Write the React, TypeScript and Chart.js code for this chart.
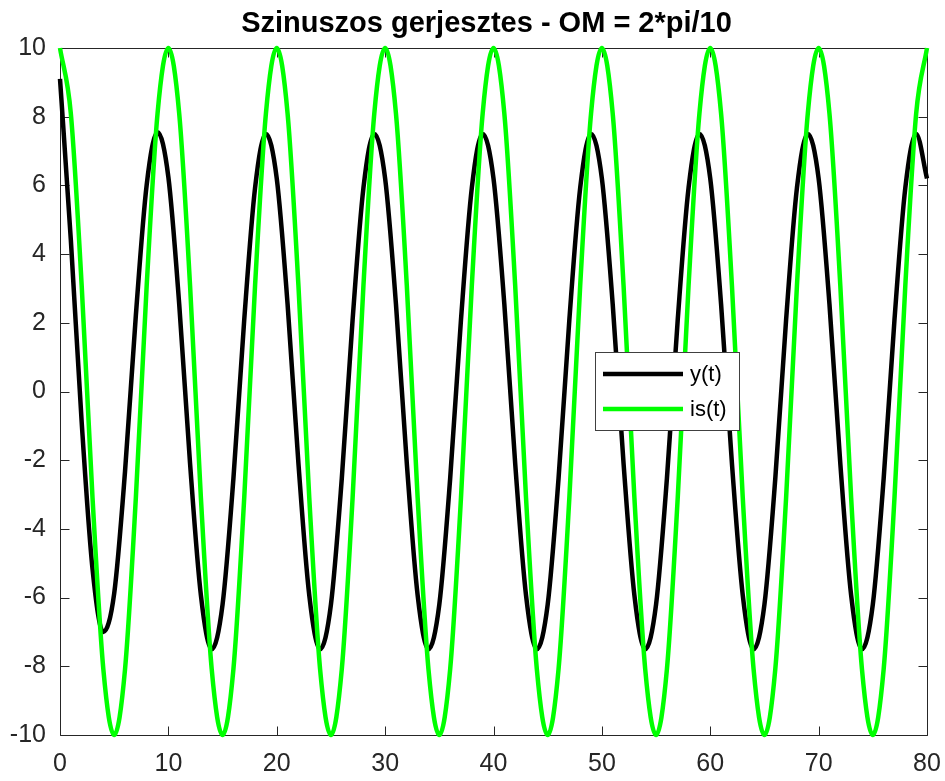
import React, { useEffect, useRef } from "react";
import { Chart, registerables } from "chart.js";

Chart.register(...registerables);

const TITLE = "Szinuszos gerjesztes - OM = 2*pi/10";
const SERIES_NAMES = ["y(t)", "is(t)"];
const SERIES_COLORS = ["#000000", "#00ff00"];

const T = [
  0, 1, 2, 3, 4, 5, 6, 7, 8, 9, 10,
  11, 12, 13, 14, 15, 16, 17, 18, 19, 20,
  21, 22, 23, 24, 25, 26, 27, 28, 29, 30,
  31, 32, 33, 34, 35, 36, 37, 38, 39, 40,
  41, 42, 43, 44, 45, 46, 47, 48, 49, 50,
  51, 52, 53, 54, 55, 56, 57, 58, 59, 60,
  61, 62, 63, 64, 65, 66, 67, 68, 69, 70,
  71, 72, 73, 74, 75, 76, 77, 78, 79, 80,
];

const Y_VALUES = [
  9.1, 4.41, -0.89, -5.16, -7.0, -5.88, -2.33, 2.22, 6.02, 7.55, 6.24,
  2.54, -2.09, -5.93, -7.5, -6.2, -2.54, 2.09, 5.93, 7.5, 6.2,
  2.54, -2.09, -5.93, -7.5, -6.2, -2.54, 2.09, 5.93, 7.5, 6.2,
  2.54, -2.09, -5.93, -7.5, -6.2, -2.54, 2.09, 5.93, 7.5, 6.2,
  2.54, -2.09, -5.93, -7.5, -6.2, -2.54, 2.09, 5.93, 7.5, 6.2,
  2.54, -2.09, -5.93, -7.5, -6.2, -2.54, 2.09, 5.93, 7.5, 6.2,
  2.54, -2.09, -5.93, -7.5, -6.2, -2.54, 2.09, 5.93, 7.5, 6.2,
  2.54, -2.09, -5.93, -7.5, -6.2, -2.54, 2.09, 5.93, 7.5, 6.2,
];

const IS_VALUES = [
  10, 8.09, 3.09, -3.09, -8.09, -10, -8.09, -3.09, 3.09, 8.09,
  10, 8.09, 3.09, -3.09, -8.09, -10, -8.09, -3.09, 3.09, 8.09,
  10, 8.09, 3.09, -3.09, -8.09, -10, -8.09, -3.09, 3.09, 8.09,
  10, 8.09, 3.09, -3.09, -8.09, -10, -8.09, -3.09, 3.09, 8.09,
  10, 8.09, 3.09, -3.09, -8.09, -10, -8.09, -3.09, 3.09, 8.09,
  10, 8.09, 3.09, -3.09, -8.09, -10, -8.09, -3.09, 3.09, 8.09,
  10, 8.09, 3.09, -3.09, -8.09, -10, -8.09, -3.09, 3.09, 8.09,
  10, 8.09, 3.09, -3.09, -8.09, -10, -8.09, -3.09, 3.09, 8.09,
  10,
];

const X_TICKS = [0, 10, 20, 30, 40, 50, 60, 70, 80];
const Y_TICKS = [-10, -8, -6, -4, -2, 0, 2, 4, 6, 8, 10];

const FONT = "'Liberation Sans', Arial, Helvetica, sans-serif";
const AXIS_COLOR = "#262626";

const framePlugin = {
  id: "frame",
  beforeDatasetsDraw(chart: any) {
    const { ctx, chartArea } = chart;
    const xs = chart.scales.x;
    const ys = chart.scales.y;
    const l = Math.round(chartArea.left) + 0.5;
    const r = Math.round(chartArea.right) + 0.5;
    const t = Math.round(chartArea.top) + 0.5;
    const b = Math.round(chartArea.bottom) + 0.5;
    const tk = 9;
    ctx.save();
    ctx.strokeStyle = AXIS_COLOR;
    ctx.lineWidth = 1;
    ctx.beginPath();
    ctx.rect(l, t, r - l, b - t);
    X_TICKS.forEach((v) => {
      const px = Math.round(xs.getPixelForValue(v)) + 0.5;
      ctx.moveTo(px, b);
      ctx.lineTo(px, b - tk);
      ctx.moveTo(px, t);
      ctx.lineTo(px, t + tk);
    });
    Y_TICKS.forEach((v) => {
      const py = Math.round(ys.getPixelForValue(v)) + 0.5;
      ctx.moveTo(l, py);
      ctx.lineTo(l + tk, py);
      ctx.moveTo(r, py);
      ctx.lineTo(r - tk, py);
    });
    ctx.stroke();
    ctx.restore();
  },
  afterDraw(chart: any) {
    const { ctx, chartArea } = chart;
    ctx.save();
    // title
    ctx.fillStyle = "#000";
    ctx.font = `bold 29px ${FONT}`;
    ctx.textAlign = "center";
    ctx.textBaseline = "alphabetic";
    ctx.fillText(TITLE, (chartArea.left + chartArea.right) / 2 - 7, 31.5);

    // legend
    const bx = chartArea.left + 535.5;
    const by = chartArea.top + 304.5;
    const bw = 144;
    const bh = 78;
    ctx.fillStyle = "#fff";
    ctx.fillRect(bx, by, bw, bh);
    ctx.strokeStyle = "#404040";
    ctx.lineWidth = 1;
    ctx.strokeRect(bx, by, bw, bh);
    const rowsY = [by + 21.5, by + 56.5];
    chart.data.datasets.forEach((ds: any, i: number) => {
      ctx.strokeStyle = ds.borderColor;
      ctx.lineWidth = 4.5;
      ctx.beginPath();
      ctx.moveTo(bx + 7.5, rowsY[i]);
      ctx.lineTo(bx + 87.5, rowsY[i]);
      ctx.stroke();
      ctx.fillStyle = "#000";
      ctx.font = `22px ${FONT}`;
      ctx.textAlign = "left";
      ctx.textBaseline = "middle";
      ctx.fillText(ds.label, bx + 94.5, rowsY[i] + 1);
    });
    ctx.restore();
  },
};

export default function App() {
  const ref = useRef<HTMLCanvasElement | null>(null);

  useEffect(() => {
    if (!ref.current) return;
    const chart = new Chart(ref.current, {
      type: "line",
      data: {
        datasets: [
          {
            label: SERIES_NAMES[0],
            data: T.map((t, i) => ({ x: t, y: Y_VALUES[i] })),
            borderColor: SERIES_COLORS[0],
            borderWidth: 4.5,
            pointRadius: 0,
            cubicInterpolationMode: "monotone",
            fill: false,
            clip: false as any,
            order: 1,
          },
          {
            label: SERIES_NAMES[1],
            data: T.map((t, i) => ({ x: t, y: IS_VALUES[i] })),
            borderColor: SERIES_COLORS[1],
            borderWidth: 4.5,
            pointRadius: 0,
            cubicInterpolationMode: "monotone",
            fill: false,
            clip: false as any,
            order: 0,
          },
        ],
      },
      options: {
        animation: false,
        responsive: false,
        devicePixelRatio: 1,
        events: [],
        layout: { padding: { top: 48, right: 18, left: 0, bottom: 0 } },
        plugins: {
          legend: { display: false },
          title: { display: false },
          tooltip: { enabled: false },
        },
        scales: {
          x: {
            type: "linear",
            min: 0,
            max: 80,
            afterFit: (s: any) => {
              s.height = 46;
              s.paddingLeft = 0;
              s.paddingRight = 0;
            },
            afterBuildTicks: (s: any) => {
              s.ticks = X_TICKS.map((v) => ({ value: v }));
            },
            grid: { display: false, drawTicks: false },
            border: { display: false },
            ticks: {
              padding: 14,
              maxRotation: 0,
              color: AXIS_COLOR,
              font: { family: FONT, size: 25 },
            },
          },
          y: {
            type: "linear",
            min: -10,
            max: 10,
            afterFit: (s: any) => {
              s.width = 60;
              s.paddingTop = 0;
              s.paddingBottom = 0;
            },
            afterBuildTicks: (s: any) => {
              s.ticks = Y_TICKS.map((v) => ({ value: v }));
            },
            grid: { display: false, drawTicks: false },
            border: { display: false },
            ticks: {
              padding: 14,
              color: AXIS_COLOR,
              font: { family: FONT, size: 25 },
            },
          },
        },
      },
      plugins: [framePlugin],
    });
    return () => chart.destroy();
  }, []);

  return (
    <div style={{ position: "absolute", left: 0, top: 0, width: 945, height: 781, background: "#fff" }}>
      <canvas ref={ref} width={945} height={781} style={{ display: "block" }} />
    </div>
  );
}
